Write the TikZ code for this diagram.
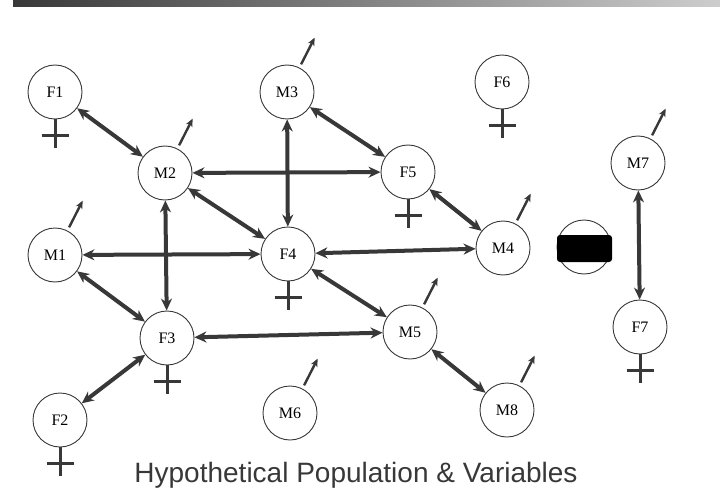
\documentclass[tikz,border=0pt]{standalone}
\usepackage{fontspec}
\setmainfont{Liberation Serif}
\setsansfont{Liberation Sans}
\usetikzlibrary{calc, arrows.meta, positioning}
\definecolor{ink}{HTML}{383838}

\begin{document}
\begin{tikzpicture}[x=1pt, y=1pt,
	person/.style={circle, draw=ink, line width=.9pt, minimum size=54pt, inner sep=0pt, font=\fontsize{16}{16}\selectfont},
	link/.style={{Stealth[length=12pt,width=11pt]}-{Stealth[length=12pt,width=11pt]}, line width=4pt, draw=ink},
	malearrow/.style={-{Stealth[length=8pt,width=7pt]}, line width=2.4pt, draw=ink},
	femalecross/.style={line width=3pt, draw=ink}]
	\useasboundingbox (0,0) rectangle (720,491);
	\shade[left color=ink, right color=ink!25] (13,484) rectangle (720,491);
	\node[person] (F1) at (55,399) {F1};
	\node[person] (M2) at (165,318) {M2};
	\node[person] (M3) at (287,399) {M3};
	\node[person] (F5) at (408,319) {F5};
	\node[person] (F6) at (502,409) {F6};
	\node[person] (M7) at (638,328) {M7};
	\node[person] (M1) at (55,236) {M1};
	\node[person] (F4) at (288,237) {F4};
	\node[person] (M4) at (503,243) {M4};
	\node[person] (hidden) at (584,244) {};
	\node[person] (F3) at (167,153) {F3};
	\node[person] (M5) at (410,159) {M5};
	\node[person] (F7) at (640,164) {F7};
	\node[person] (F2) at (60,71) {F2};
	\node[person] (M6) at (290,78) {M6};
	\node[person] (M8) at (507,81) {M8};
	\fill[black, rounded corners=3pt] ($(hidden)+(-27,-15)$) rectangle ($(hidden)+(28,12)$);
	\foreach \a/\b in {F1/M2, M2/F5, M2/F4, M2/F3, M3/F4, M3/F5, F5/M4, M1/F4, F4/M4, M1/F3, F4/M5, F3/M5, F3/F2, M5/M8, M7/F7}
		\draw[link] (\a) -- (\b);
	\foreach \n in {M1, M2, M3, M4, M5, M6, M7, M8}
		\draw[malearrow] ($(\n)+(63:31)$) -- ($(\n)+(63:61)$);
	\foreach \n in {F1, F2, F3, F4, F5, F6, F7}
		\draw[femalecross] (\n.south) -- ++(0,-29) ($(\n.south)+(-13.5,-16)$) -- ++(27,0);
	\node[anchor=base, text=ink, font=\fontsize{28}{30}\selectfont\sffamily] (title) at (356,9) {Hypothetical Population \& Variables};
\end{tikzpicture}
\end{document}
